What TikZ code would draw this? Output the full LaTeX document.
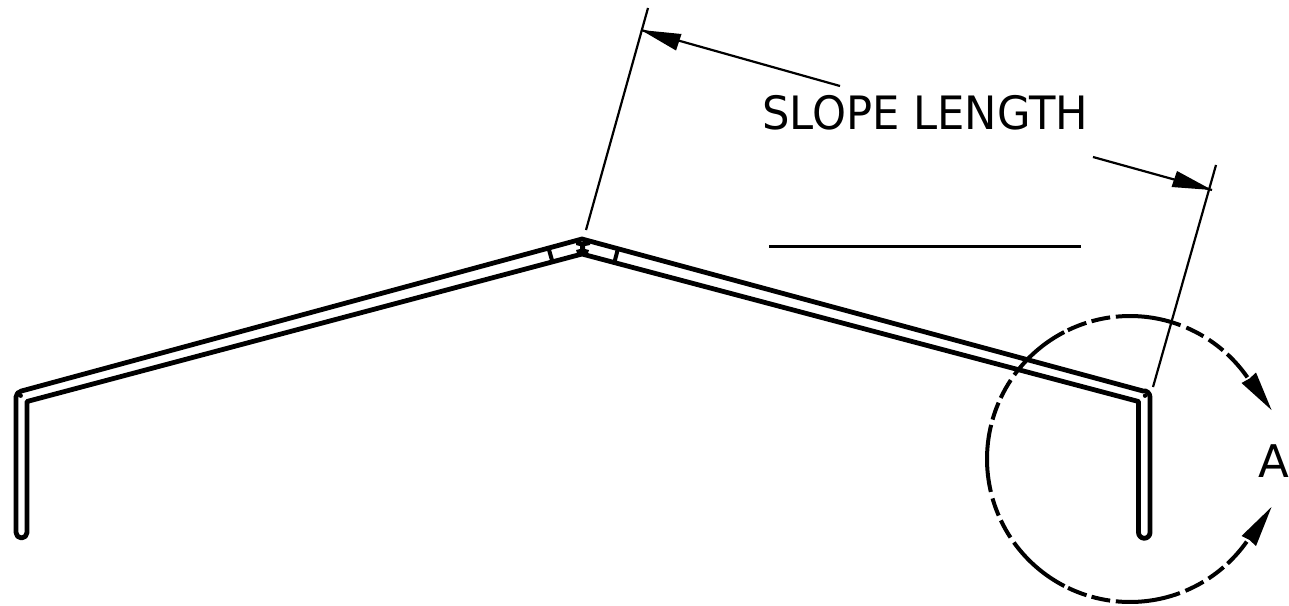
\documentclass[tikz,border=0pt]{standalone}
\usepackage{fontspec}
\usetikzlibrary{calc}
\setmainfont{DejaVu Sans}[FakeStretch=0.94]
\newfontfamily\wideletter{DejaVu Sans}
\tikzset{
  px/.style={x=1pt,y=-1pt},
  wall/.style={line width=4.8pt,line join=round,line cap=round},
  thin dim/.style={line width=2.2pt},
  dashes/.style={line width=4pt},
  label text/.style={inner sep=0pt,anchor=base west,text=black},
}
\begin{document}
\begin{tikzpicture}[px]
\useasboundingbox (0,0) rectangle (1289,605);
% roof outline
\coordinate (lb1) at (16,532.5);
\coordinate (lb2) at (27,532.5);
\coordinate (lo) at (16,392);
\coordinate (li) at (27,401.5);
\coordinate (ao) at (582,239);
\coordinate (ai) at (582,254);
\coordinate (ro) at (1150,392);
\coordinate (ri) at (1138.5,401.5);
\coordinate (rb1) at (1150,532.5);
\coordinate (rb2) at (1138.5,532.5);
\draw[wall] (lb1) -- ([yshift=-5pt]lo) to[out=90,in=195] (21.5,391) -- (ao) -- (1143,391) to[out=15,in=90] ([yshift=-5pt]ro) -- (rb1)
   arc[start angle=0,end angle=180,radius=5.75] -- (ri) -- (ai) -- (li) -- (lb2)
   arc[start angle=0,end angle=180,radius=5.5];
% splice marks
\draw[line width=4pt] (548.5,248) -- (552.5,262);
\draw[line width=4pt] (618,248.5) -- (614.5,262);
% ridge detail
\fill (576,242) -- (590,242) -- (590,245) -- (585,246) -- (585,249) -- (589,250) -- (588,253) -- (577,253) -- (576,250) -- (580,249) -- (580,246) -- (576,245) -- cycle;
\fill (20.7,395.7) circle[radius=2.2];
\fill (1145,395.7) circle[radius=2.2];
% extension lines
\coordinate (e1a) at (586,230);
\coordinate (e1b) at (648,8);
\coordinate (e2a) at (1153,387);
\coordinate (e2b) at (1216,165);
\draw[thin dim] (e1a) -- (e1b);
\draw[thin dim] (e2a) -- (e2b);
% dimension arrows
\coordinate (d1) at (840,86);
\coordinate (t1) at (641,30);
\coordinate (d2) at (1093,157);
\coordinate (t2) at (1212,190);
\draw[thin dim] (d1) -- (t1);
\draw[thin dim] (d2) -- (t2);
\fill (t1) -- (681.5,34) -- (676,50.5) -- cycle;
\fill (t2) -- (1177,171) -- (1171.5,187) -- cycle;
% text
\node[label text] (slope) at (762,129.5) {\fontsize{46}{46}\selectfont SLOPE LENGTH};
\coordinate (u1) at (769,246);
\coordinate (u2) at (1081,246);
\draw[line width=3pt] (u1) -- (u2);
\node[label text] (letA) at (1258,477) {\wideletter\fontsize{45}{45}\selectfont A};
% dashed circle
\coordinate (cc) at (1130,459);
\foreach \a/\b in {34.8/47.2,49.4/56.6,59.1/66.8,69.3/95.7,98/105.6,107.8/115.8,117.4/144,146.5/154.7,156.8/164,166.2/193.3,196/203.3,205.4/213.3,215.7/242.7,244.3/252.3,254.4/262,264.3/290.4,292.8/300.9,303.3/310.9,313/324.7}{
  \draw[dashes] ($(cc)+({143*cos(\a)},{-143*sin(\a)})$) arc[start angle=-\a,end angle=-\b,radius=143];
}
% arrow heads on circle
\fill (1271.5,410) -- (1256,372.5) -- (1249.5,378.5) -- (1241.5,383) -- cycle;
\fill (1271.5,507) -- (1256,546) -- (1249.5,540) -- (1241.5,536) -- cycle;
\end{tikzpicture}
\end{document}
